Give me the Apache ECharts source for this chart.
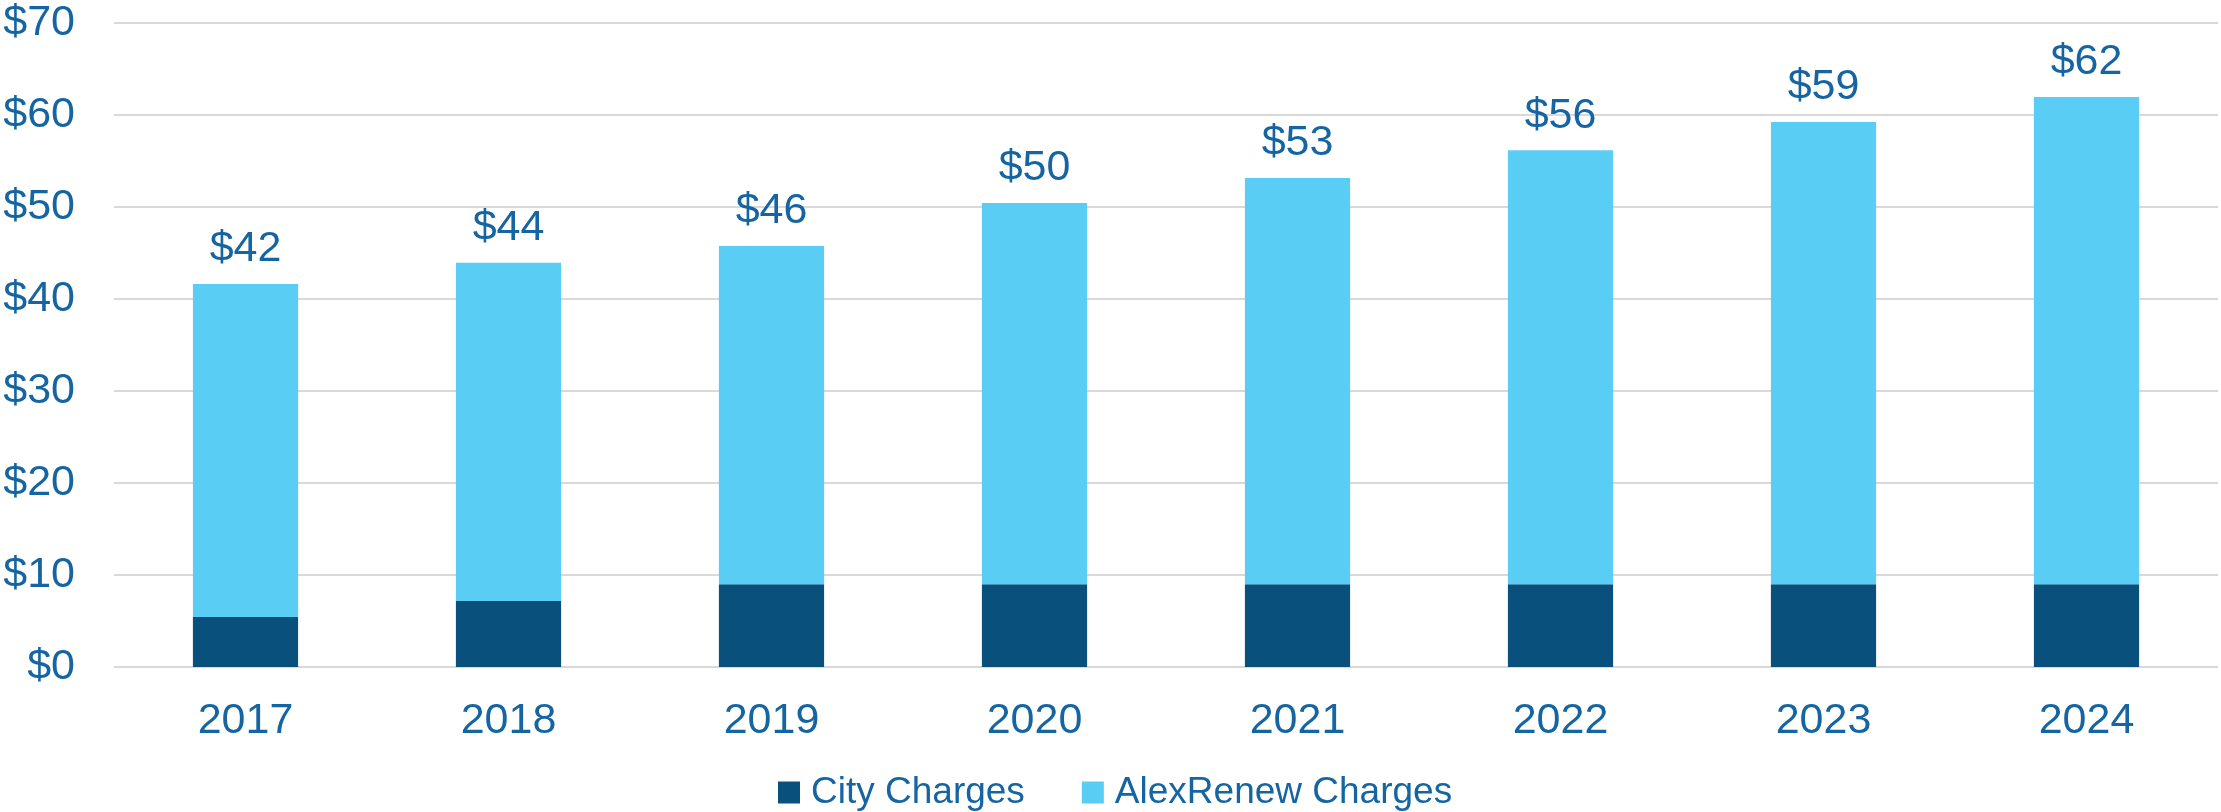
<!DOCTYPE html>
<html>
<head>
<meta charset="utf-8">
<title>City and AlexRenew Charges</title>
<script src="https://cdn.jsdelivr.net/npm/echarts@6/dist/echarts.min.js"></script>
<style>
    html, body { margin: 0; padding: 0; background: #fff; }
    #chart { width: 2221px; height: 812px; }
</style>
</head>
<body>
<div id="chart"></div>
<script>
// 数据
var years = ['2017', '2018', '2019', '2020', '2021', '2022', '2023', '2024'];
var cityCharges = [5.43, 7.17, 9.0, 9.0, 9.0, 9.0, 9.0, 9.0];
var alexRenewCharges = [36.2, 36.78, 36.76, 41.43, 44.15, 47.16, 50.24, 52.96];
var yTicks = [0, 10, 20, 30, 40, 50, 60, 70];

var textColor = '#1565a3';
var fontName = '"Liberation Sans", Arial, sans-serif';

var myCharts = echarts.init(document.getElementById('chart'));

var settings = {
    animation: false,
    color: ['#09507c', '#5acdf5'],
    grid: {
        left: 114,
        right: 3,
        top: 23,
        bottom: 145,
        containLabel: false
    },
    legend: {
        left: 773,
        top: 769,
        icon: 'rect',
        itemWidth: 22,
        itemHeight: 22,
        itemGap: 57,
        textStyle: {
            color: textColor,
            fontSize: 37,
            fontFamily: fontName,
            padding: [0, 0, 0, 6]
        },
        data: ['City Charges', 'AlexRenew Charges']
    },
    xAxis: {
        type: 'category',
        data: years,
        axisLine: { show: false },
        axisTick: { show: false },
        axisLabel: {
            color: textColor,
            fontSize: 43,
            fontFamily: fontName,
            margin: 33
        }
    },
    yAxis: {
        type: 'value',
        min: yTicks[0],
        max: yTicks[yTicks.length - 1],
        interval: 10,
        axisLine: { show: false },
        axisTick: { show: false },
        splitLine: {
            show: true,
            lineStyle: { color: '#d9d9d9', width: 2 }
        },
        axisLabel: {
            color: textColor,
            fontSize: 43,
            fontFamily: fontName,
            margin: 39,
            formatter: function (v) { return '$' + v; }
        }
    },
    series: [
        {
            name: 'City Charges',
            type: 'bar',
            stack: 'total',
            barWidth: '40%',
            data: cityCharges
        },
        {
            name: 'AlexRenew Charges',
            type: 'bar',
            stack: 'total',
            barWidth: '40%',
            data: alexRenewCharges,
            label: {
                show: true,
                position: 'top',
                distance: 13,
                color: textColor,
                fontSize: 43,
                fontFamily: fontName,
                // 合计标签
                formatter: function (p) {
                    return '$' + Math.round(cityCharges[p.dataIndex] + alexRenewCharges[p.dataIndex]);
                }
            }
        }
    ]
};

myCharts.setOption(settings);
</script>
</body>
</html>
